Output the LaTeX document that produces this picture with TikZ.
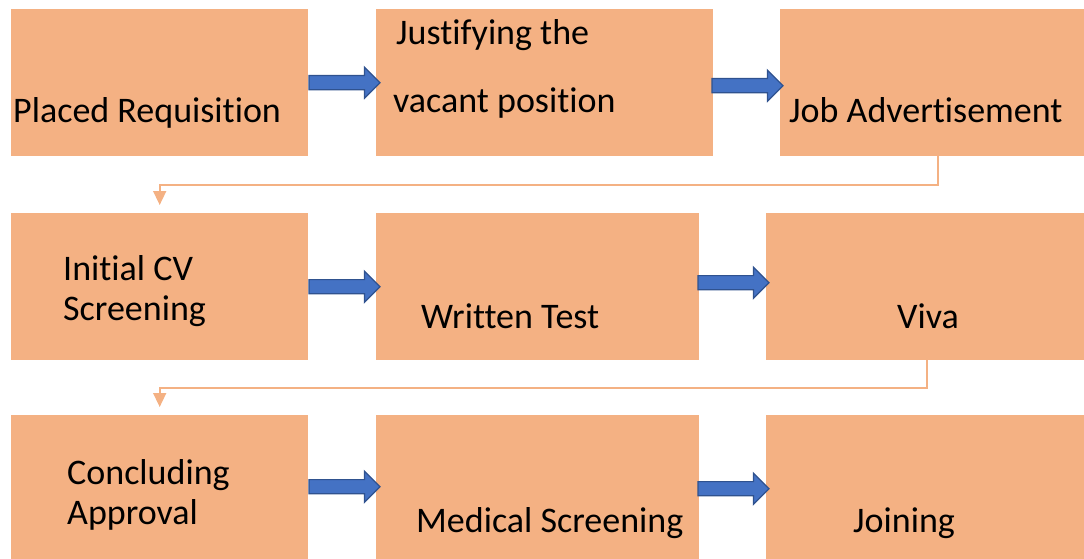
\documentclass[tikz,border=0pt]{standalone}
\usepackage{fontspec}
\setmainfont{Carlito}[Ligatures=NoCommon]
\usetikzlibrary{shapes.arrows,arrows.meta,calc}

\definecolor{peach}{HTML}{F4B183}
\definecolor{flowblue}{HTML}{4472C4}
\definecolor{flowedge}{HTML}{2F528F}

\begin{document}
\begin{tikzpicture}[
  x=1pt, y=-1pt,
  stage/.style={rectangle, fill=peach, anchor=north west, inner sep=0pt,
    minimum height=147pt},
  caption/.style={anchor=base west, inner sep=0pt, align=left,
    font=\fontsize{36}{40}\selectfont},
  flow/.style={single arrow, fill=flowblue, draw=flowedge, line width=1.2pt,
    inner sep=6.5pt, single arrow head extend=8.5pt, minimum height=71pt,
    anchor=tail},
  link/.style={draw=peach, line width=1.6pt, shorten >=8pt,
    -{Triangle[width=13pt,length=14pt]}},
]
  \useasboundingbox (0,0) rectangle (1084,559);

  % boxes
  \node[stage, minimum width=297pt] (req)    at (11,9)   {};
  \node[stage, minimum width=337pt] (just)   at (376,9)  {};
  \node[stage, minimum width=304pt] (advert) at (780,9)  {};
  \node[stage, minimum width=297pt] (screen) at (11,213) {};
  \node[stage, minimum width=323pt] (test)   at (376,213) {};
  \node[stage, minimum width=318pt] (viva)   at (766,213) {};
  \node[stage, minimum width=297pt] (approve) at (11,415) {};
  \node[stage, minimum width=323pt] (medical) at (376,415) {};
  \node[stage, minimum width=318pt] (join)   at (766,415) {};

  % texts
  \node[caption] (t-req) at (13,123) {Placed Requisition};
  \node[caption] (t-just1) at (396,45) {Justifying the};
  \node[caption] (t-just2) at (393,113) {vacant position};
  \node[caption] (t-advert) at (789,123) {Job Advertisement};
  \node[caption] (t-screen) at (63,320) {Initial CV\\Screening};
  \node[caption] (t-test) at (421,328) {Written Test};
  \node[caption] (t-viva) at (897,328) {Viva};
  \node[caption] (t-approve) at (67,524) {Concluding\\Approval};
  \node[caption] (t-medical) at (416,532) {Medical Screening};
  \node[caption] (t-join) at (853,532) {Joining};

  % block arrows
  \node[flow] (a1) at (req.east) {};
  \node[flow] (a2) at ([xshift=-2pt,yshift=-3pt]just.east) {};
  \node[flow] (a3) at (screen.east) {};
  \node[flow] (a4) at ([xshift=-2pt,yshift=4pt]test.east) {};
  \node[flow] (a5) at ([yshift=2pt]approve.east) {};
  \node[flow] (a6) at ([xshift=-2pt]medical.east) {};

  % elbow links
  \coordinate (c1) at ($(advert.south)!0.5!(screen.north)$);
  \coordinate (c2) at ($(viva.south)!0.5!(approve.north)$);
  \draw[link] ([xshift=6pt]advert.south) |- (c1) -| (screen.north);
  \draw[link] ([xshift=2pt]viva.south) |- (c2) -| (approve.north);
\end{tikzpicture}
\end{document}
